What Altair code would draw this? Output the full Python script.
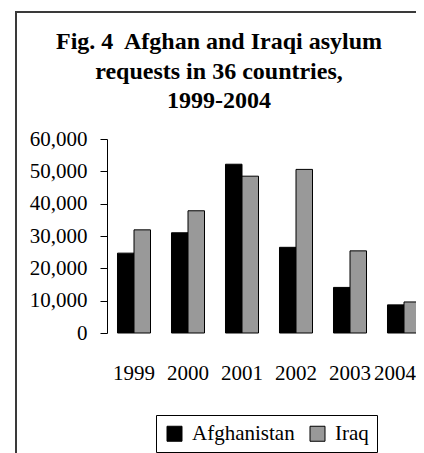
import altair as alt
import pandas as pd

years = ["1999", "2000", "2001", "2002", "2003", "2004"]
afghanistan = [24700, 31000, 52200, 26500, 14100, 8700]
iraq = [31900, 37800, 48500, 50600, 25400, 9600]
series = ["Afghanistan", "Iraq"]
colors = ["#000000", "#999999"]
y_ticks = [0, 10000, 20000, 30000, 40000, 50000, 60000]
title_lines = ["Fig. 4\u00a0 Afghan and Iraqi asylum", "requests in 36 countries,", "1999-2004"]

rows = []
for i, yr in enumerate(years):
    rows.append({"year": yr, "country": series[0], "value": afghanistan[i]})
    rows.append({"year": yr, "country": series[1], "value": iraq[i]})
df = pd.DataFrame(rows)

FONT = "Liberation Serif"

bars = alt.Chart(df).mark_bar(stroke="black", strokeWidth=1).encode(
    x=alt.X("year:N", sort=years,
            scale=alt.Scale(range=[0, 324], paddingInner=0, paddingOuter=0),
            axis=alt.Axis(title=None, domain=False, ticks=False, labelAngle=0,
                          labelPadding=29, labelFontSize=21, labelFont=FONT,
                          labelColor="black",
                          labelOffset={"condition": {"test": "datum.value === '2004'", "value": -9},
                                       "value": 0})),
    xOffset=alt.XOffset("country:N", sort=series,
                        scale=alt.Scale(paddingOuter=0.636, paddingInner=0)),
    y=alt.Y("value:Q", scale=alt.Scale(domain=[0, 60000], nice=False),
            axis=alt.Axis(title=None, values=y_ticks, format=",.0f", grid=False,
                          tickSize=7, labelPadding=13, labelFontSize=21,
                          labelFont=FONT, labelColor="black",
                          domainColor="black", tickColor="black")),
    color=alt.Color("country:N", sort=series,
                    scale=alt.Scale(domain=series, range=colors),
                    legend=alt.Legend(orient="none", legendX=49, legendY=276,
                                      direction="horizontal", title=None,
                                      symbolType="square", symbolSize=225,
                                      symbolStrokeColor="black", symbolStrokeWidth=1,
                                      labelFont=FONT, labelFontSize=21,
                                      labelColor="black", strokeColor="black",
                                      fillColor="white", padding=8,
                                      columnPadding=12, labelOffset=7)),
)

frame = pd.DataFrame({"a": [0]})

border = alt.Chart(frame).mark_rect(
    filled=False, stroke="#3a3a3a", strokeWidth=2
).encode(
    x=alt.value(-91), x2=alt.value(400), y=alt.value(-127), y2=alt.value(400)
)

title = alt.Chart(frame).mark_text(
    font=FONT, fontSize=24, fontWeight="bold", color="black",
    align="center", baseline="alphabetic", lineHeight=29.5
).encode(
    x=alt.value(112), y=alt.value(-90), text=alt.value(title_lines)
)

chart = alt.layer(border, title, bars).properties(
    width=309, height=194,
    padding={"left": 99, "top": 131, "right": 0, "bottom": 120},
    autosize=alt.AutoSizeParams(type="none"),
).configure_view(stroke=None)

chart.save("out.html", embed_options={"renderer": "svg", "actions": False})
